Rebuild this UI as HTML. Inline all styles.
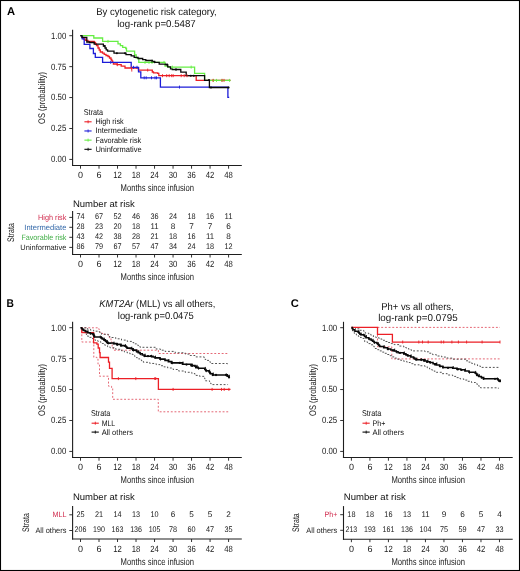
<!DOCTYPE html><html><head><meta charset="utf-8"><style>html,body{margin:0;padding:0;background:#fff;overflow:hidden;}svg{display:block;will-change:transform;text-rendering:geometricPrecision;}</style></head><body>
<svg width="520" height="571" viewBox="0 0 520 571" font-family='"Liberation Sans", sans-serif'>
<rect x="0" y="0" width="520" height="571" fill="#fff"/>
<text x="7.10" y="14.80" font-size="11.2" fill="#000" text-anchor="start" font-weight="bold">A</text>
<text x="156.50" y="14.90" font-size="10" fill="#111" text-anchor="middle" textLength="120.5" lengthAdjust="spacingAndGlyphs">By cytogenetic risk category,</text>
<text x="156.50" y="26.60" font-size="10" fill="#111" text-anchor="middle" textLength="78.6" lengthAdjust="spacingAndGlyphs">log-rank p=0.5487</text>
<line x1="72.60" y1="29.80" x2="72.60" y2="166.00" stroke="#1e1e1e" stroke-width="1.1"/>
<line x1="72.05" y1="165.50" x2="241.80" y2="165.50" stroke="#1e1e1e" stroke-width="1.1"/>
<line x1="69.30" y1="35.70" x2="72.60" y2="35.70" stroke="#1e1e1e" stroke-width="0.9"/>
<text x="66.30" y="38.60" font-size="9.0" fill="#1a1a1a" text-anchor="end" textLength="15.2" lengthAdjust="spacingAndGlyphs">1.00</text>
<line x1="69.30" y1="66.63" x2="72.60" y2="66.63" stroke="#1e1e1e" stroke-width="0.9"/>
<text x="66.30" y="69.53" font-size="9.0" fill="#1a1a1a" text-anchor="end" textLength="15.2" lengthAdjust="spacingAndGlyphs">0.75</text>
<line x1="69.30" y1="97.56" x2="72.60" y2="97.56" stroke="#1e1e1e" stroke-width="0.9"/>
<text x="66.30" y="100.46" font-size="9.0" fill="#1a1a1a" text-anchor="end" textLength="15.2" lengthAdjust="spacingAndGlyphs">0.50</text>
<line x1="69.30" y1="128.49" x2="72.60" y2="128.49" stroke="#1e1e1e" stroke-width="0.9"/>
<text x="66.30" y="131.39" font-size="9.0" fill="#1a1a1a" text-anchor="end" textLength="15.2" lengthAdjust="spacingAndGlyphs">0.25</text>
<line x1="69.30" y1="159.42" x2="72.60" y2="159.42" stroke="#1e1e1e" stroke-width="0.9"/>
<text x="66.30" y="162.32" font-size="9.0" fill="#1a1a1a" text-anchor="end" textLength="15.2" lengthAdjust="spacingAndGlyphs">0.00</text>
<line x1="80.50" y1="165.50" x2="80.50" y2="168.70" stroke="#1e1e1e" stroke-width="0.9"/>
<text x="80.50" y="178.10" font-size="9.0" fill="#1a1a1a" text-anchor="middle">0</text>
<line x1="99.01" y1="165.50" x2="99.01" y2="168.70" stroke="#1e1e1e" stroke-width="0.9"/>
<text x="99.01" y="178.10" font-size="9.0" fill="#1a1a1a" text-anchor="middle">6</text>
<line x1="117.52" y1="165.50" x2="117.52" y2="168.70" stroke="#1e1e1e" stroke-width="0.9"/>
<text x="117.52" y="178.10" font-size="9.0" fill="#1a1a1a" text-anchor="middle" textLength="8.6" lengthAdjust="spacingAndGlyphs">12</text>
<line x1="136.03" y1="165.50" x2="136.03" y2="168.70" stroke="#1e1e1e" stroke-width="0.9"/>
<text x="136.03" y="178.10" font-size="9.0" fill="#1a1a1a" text-anchor="middle" textLength="8.6" lengthAdjust="spacingAndGlyphs">18</text>
<line x1="154.54" y1="165.50" x2="154.54" y2="168.70" stroke="#1e1e1e" stroke-width="0.9"/>
<text x="154.54" y="178.10" font-size="9.0" fill="#1a1a1a" text-anchor="middle" textLength="8.6" lengthAdjust="spacingAndGlyphs">24</text>
<line x1="173.05" y1="165.50" x2="173.05" y2="168.70" stroke="#1e1e1e" stroke-width="0.9"/>
<text x="173.05" y="178.10" font-size="9.0" fill="#1a1a1a" text-anchor="middle" textLength="8.6" lengthAdjust="spacingAndGlyphs">30</text>
<line x1="191.56" y1="165.50" x2="191.56" y2="168.70" stroke="#1e1e1e" stroke-width="0.9"/>
<text x="191.56" y="178.10" font-size="9.0" fill="#1a1a1a" text-anchor="middle" textLength="8.6" lengthAdjust="spacingAndGlyphs">36</text>
<line x1="210.07" y1="165.50" x2="210.07" y2="168.70" stroke="#1e1e1e" stroke-width="0.9"/>
<text x="210.07" y="178.10" font-size="9.0" fill="#1a1a1a" text-anchor="middle" textLength="8.6" lengthAdjust="spacingAndGlyphs">42</text>
<line x1="228.58" y1="165.50" x2="228.58" y2="168.70" stroke="#1e1e1e" stroke-width="0.9"/>
<text x="228.58" y="178.10" font-size="9.0" fill="#1a1a1a" text-anchor="middle" textLength="8.6" lengthAdjust="spacingAndGlyphs">48</text>
<text x="157.30" y="191.20" font-size="9.8" fill="#1a1a1a" text-anchor="middle" textLength="73.5" lengthAdjust="spacingAndGlyphs">Months since infusion</text>
<text x="44.90" y="97.90" font-size="9.6" fill="#1a1a1a" text-anchor="middle" textLength="52" lengthAdjust="spacingAndGlyphs" transform="rotate(-90 44.90 97.90)">OS (probability)</text>
<polyline points="80.30,35.70 82.00,35.70 82.00,37.50 83.50,37.50 83.50,39.00 85.30,39.00 85.30,40.30 88.00,40.30 88.00,41.50 94.20,41.50 94.20,42.50 95.50,42.50 95.50,44.00 96.50,44.00 96.50,45.50 98.00,45.50 98.00,48.00 99.20,48.00 99.20,50.00 100.30,50.00 100.30,52.00 102.50,52.00 102.50,53.20 104.20,53.20 104.20,54.30 106.00,54.30 106.00,55.50 108.00,55.50 108.00,56.50 109.50,56.50 109.50,58.00 111.00,58.00 111.00,59.50 111.80,59.50 111.80,60.80 112.60,60.80 112.60,62.30 113.40,62.30 113.40,64.00 117.00,64.00 117.00,64.70 121.20,64.70 121.20,66.20 125.00,66.20 125.00,68.00 138.50,68.00 138.50,70.10 152.30,70.10 152.30,72.00 153.50,72.00 153.50,72.80 157.70,72.80 157.70,73.40 158.80,73.40 158.80,75.70 196.20,75.70 196.20,80.40 230.50,80.40" fill="none" stroke="#ec1f26" stroke-width="1.3" stroke-linejoin="miter"/>
<polyline points="80.30,35.70 82.20,35.70 82.20,38.90 84.20,38.90 84.20,44.30 89.90,44.30 89.90,48.50 93.40,48.50 93.40,53.50 95.30,53.50 95.30,57.40 102.60,57.40 102.60,62.30 131.20,62.30 131.20,67.30 138.50,67.30 138.50,71.90 140.80,71.90 140.80,77.80 160.40,77.80 160.40,87.10 227.90,87.10 227.90,97.30 229.20,97.30" fill="none" stroke="#1c1cd8" stroke-width="1.3" stroke-linejoin="miter"/>
<polyline points="80.30,35.70 93.80,35.70 93.80,38.00 102.60,38.00 102.60,41.40 118.00,41.40 118.00,43.90 120.40,43.90 120.40,45.60 122.70,45.60 122.70,47.40 125.80,47.40 125.80,48.50 126.50,48.50 126.50,51.20 134.60,51.20 134.60,55.00 136.20,55.00 136.20,58.20 138.80,58.20 138.80,62.40 165.00,62.40 165.00,66.20 168.00,66.20 168.00,67.10 194.60,67.10 194.60,73.40 204.60,73.40 204.60,80.40 230.50,80.40" fill="none" stroke="#66ee44" stroke-width="1.3" stroke-linejoin="miter"/>
<polyline points="80.30,35.70 82.00,35.70 82.00,37.40 86.80,37.40 86.80,42.00 89.50,42.00 89.50,42.50 94.20,42.50 94.20,44.20 103.40,44.20 103.40,46.00 105.00,46.00 105.00,48.00 106.20,48.00 106.20,49.80 107.60,49.80 107.60,51.20 114.00,51.20 114.00,53.20 126.00,53.20 126.00,54.70 131.20,54.70 131.20,55.80 134.20,55.80 134.20,57.40 138.00,57.40 138.00,58.50 142.70,58.50 142.70,59.70 145.80,59.70 145.80,60.50 152.30,60.50 152.30,61.30 154.60,61.30 154.60,62.30 159.20,62.30 159.20,64.20 165.40,64.20 165.40,64.60 167.70,64.60 167.70,66.90 170.50,66.90 170.50,68.80 172.30,68.80 172.30,69.50 180.80,69.50 180.80,72.20 186.20,72.20 186.20,75.70 204.60,75.70 204.60,80.30 209.40,80.30 209.40,87.50 228.80,87.50" fill="none" stroke="#0a0a0a" stroke-width="1.3" stroke-linejoin="miter"/>
<line x1="108.00" y1="39.90" x2="108.00" y2="42.90" stroke="#66ee44" stroke-width="0.9"/>
<line x1="145.00" y1="60.90" x2="145.00" y2="63.90" stroke="#66ee44" stroke-width="0.9"/>
<line x1="149.00" y1="60.90" x2="149.00" y2="63.90" stroke="#66ee44" stroke-width="0.9"/>
<line x1="152.00" y1="60.90" x2="152.00" y2="63.90" stroke="#66ee44" stroke-width="0.9"/>
<line x1="164.00" y1="60.90" x2="164.00" y2="63.90" stroke="#66ee44" stroke-width="0.9"/>
<line x1="172.30" y1="65.60" x2="172.30" y2="68.60" stroke="#66ee44" stroke-width="0.9"/>
<line x1="191.20" y1="65.60" x2="191.20" y2="68.60" stroke="#66ee44" stroke-width="0.9"/>
<line x1="213.50" y1="78.90" x2="213.50" y2="81.90" stroke="#66ee44" stroke-width="0.9"/>
<line x1="216.50" y1="78.90" x2="216.50" y2="81.90" stroke="#66ee44" stroke-width="0.9"/>
<line x1="222.00" y1="78.90" x2="222.00" y2="81.90" stroke="#66ee44" stroke-width="0.9"/>
<line x1="229.60" y1="78.90" x2="229.60" y2="81.90" stroke="#66ee44" stroke-width="0.9"/>
<line x1="110.70" y1="60.80" x2="110.70" y2="63.80" stroke="#1c1cd8" stroke-width="0.9"/>
<line x1="133.50" y1="65.80" x2="133.50" y2="68.80" stroke="#1c1cd8" stroke-width="0.9"/>
<line x1="137.00" y1="65.80" x2="137.00" y2="68.80" stroke="#1c1cd8" stroke-width="0.9"/>
<line x1="144.20" y1="76.30" x2="144.20" y2="79.30" stroke="#1c1cd8" stroke-width="0.9"/>
<line x1="146.20" y1="76.30" x2="146.20" y2="79.30" stroke="#1c1cd8" stroke-width="0.9"/>
<line x1="151.50" y1="76.30" x2="151.50" y2="79.30" stroke="#1c1cd8" stroke-width="0.9"/>
<line x1="155.00" y1="76.30" x2="155.00" y2="79.30" stroke="#1c1cd8" stroke-width="0.9"/>
<line x1="156.50" y1="76.30" x2="156.50" y2="79.30" stroke="#1c1cd8" stroke-width="0.9"/>
<line x1="179.50" y1="85.60" x2="179.50" y2="88.60" stroke="#1c1cd8" stroke-width="0.9"/>
<line x1="117.30" y1="63.20" x2="117.30" y2="66.20" stroke="#ec1f26" stroke-width="0.9"/>
<line x1="131.50" y1="66.50" x2="131.50" y2="69.50" stroke="#ec1f26" stroke-width="0.9"/>
<line x1="131.80" y1="68.60" x2="131.80" y2="71.60" stroke="#ec1f26" stroke-width="0.9"/>
<line x1="147.70" y1="68.60" x2="147.70" y2="71.60" stroke="#ec1f26" stroke-width="0.9"/>
<line x1="162.50" y1="74.20" x2="162.50" y2="77.20" stroke="#ec1f26" stroke-width="0.9"/>
<line x1="166.70" y1="74.20" x2="166.70" y2="77.20" stroke="#ec1f26" stroke-width="0.9"/>
<line x1="169.20" y1="74.20" x2="169.20" y2="77.20" stroke="#ec1f26" stroke-width="0.9"/>
<line x1="171.70" y1="74.20" x2="171.70" y2="77.20" stroke="#ec1f26" stroke-width="0.9"/>
<line x1="173.20" y1="74.20" x2="173.20" y2="77.20" stroke="#ec1f26" stroke-width="0.9"/>
<line x1="181.20" y1="74.20" x2="181.20" y2="77.20" stroke="#ec1f26" stroke-width="0.9"/>
<line x1="184.20" y1="74.20" x2="184.20" y2="77.20" stroke="#ec1f26" stroke-width="0.9"/>
<line x1="187.00" y1="74.20" x2="187.00" y2="77.20" stroke="#ec1f26" stroke-width="0.9"/>
<line x1="213.00" y1="78.90" x2="213.00" y2="81.90" stroke="#ec1f26" stroke-width="0.9"/>
<line x1="222.00" y1="78.90" x2="222.00" y2="81.90" stroke="#ec1f26" stroke-width="0.9"/>
<line x1="224.00" y1="78.90" x2="224.00" y2="81.90" stroke="#ec1f26" stroke-width="0.9"/>
<circle cx="104.5" cy="46.0" r="1.05" fill="#0a0a0a"/>
<circle cx="116.9" cy="53.2" r="1.05" fill="#0a0a0a"/>
<circle cx="125.0" cy="53.2" r="1.05" fill="#0a0a0a"/>
<circle cx="154.6" cy="62.3" r="1.05" fill="#0a0a0a"/>
<circle cx="190.8" cy="75.7" r="1.05" fill="#0a0a0a"/>
<circle cx="193.8" cy="75.7" r="1.05" fill="#0a0a0a"/>
<circle cx="209.0" cy="80.0" r="1.05" fill="#0a0a0a"/>
<circle cx="211.0" cy="87.5" r="1.05" fill="#0a0a0a"/>
<circle cx="228.6" cy="87.5" r="1.05" fill="#0a0a0a"/>
<line x1="152.00" y1="59.80" x2="152.00" y2="62.80" stroke="#0a0a0a" stroke-width="0.9"/>
<line x1="167.00" y1="63.10" x2="167.00" y2="66.10" stroke="#0a0a0a" stroke-width="0.9"/>
<line x1="176.00" y1="68.00" x2="176.00" y2="71.00" stroke="#0a0a0a" stroke-width="0.9"/>
<text x="83.80" y="115.20" font-size="8.5" fill="#111" text-anchor="start" textLength="19.3" lengthAdjust="spacingAndGlyphs">Strata</text>
<line x1="84.40" y1="121.80" x2="91.60" y2="121.80" stroke="#ec1f26" stroke-width="1.1"/>
<line x1="88.10" y1="120.30" x2="88.10" y2="123.30" stroke="#ec1f26" stroke-width="0.9"/>
<text x="95.40" y="124.30" font-size="8.0" fill="#111" text-anchor="start" textLength="28.3" lengthAdjust="spacingAndGlyphs">High risk</text>
<line x1="84.40" y1="130.97" x2="91.60" y2="130.97" stroke="#1c1cd8" stroke-width="1.1"/>
<line x1="88.10" y1="129.47" x2="88.10" y2="132.47" stroke="#1c1cd8" stroke-width="0.9"/>
<text x="95.40" y="133.47" font-size="8.0" fill="#111" text-anchor="start" textLength="42.2" lengthAdjust="spacingAndGlyphs">Intermediate</text>
<line x1="84.40" y1="140.14" x2="91.60" y2="140.14" stroke="#66ee44" stroke-width="1.1"/>
<line x1="88.10" y1="138.64" x2="88.10" y2="141.64" stroke="#66ee44" stroke-width="0.9"/>
<text x="95.40" y="142.64" font-size="8.0" fill="#111" text-anchor="start" textLength="45.8" lengthAdjust="spacingAndGlyphs">Favorable risk</text>
<line x1="84.40" y1="149.31" x2="91.60" y2="149.31" stroke="#0a0a0a" stroke-width="1.1"/>
<line x1="88.10" y1="147.81" x2="88.10" y2="150.81" stroke="#0a0a0a" stroke-width="0.9"/>
<text x="95.40" y="151.81" font-size="8.0" fill="#111" text-anchor="start" textLength="46.3" lengthAdjust="spacingAndGlyphs">Uninformative</text>
<text x="72.90" y="207.10" font-size="9.3" fill="#111" text-anchor="start" textLength="62.0" lengthAdjust="spacingAndGlyphs">Number at risk</text>
<line x1="72.60" y1="210.90" x2="72.60" y2="255.05" stroke="#1e1e1e" stroke-width="1.1"/>
<line x1="72.05" y1="254.50" x2="241.80" y2="254.50" stroke="#1e1e1e" stroke-width="1.1"/>
<line x1="69.30" y1="217.40" x2="72.60" y2="217.40" stroke="#1e1e1e" stroke-width="0.9"/>
<text x="66.40" y="219.70" font-size="7.8" fill="#d02a4c" text-anchor="end" textLength="28.3" lengthAdjust="spacingAndGlyphs">High risk</text>
<text x="80.50" y="219.35" font-size="8.2" fill="#1a1a1a" text-anchor="middle" textLength="8.1" lengthAdjust="spacingAndGlyphs">74</text>
<text x="99.01" y="219.35" font-size="8.2" fill="#1a1a1a" text-anchor="middle" textLength="8.1" lengthAdjust="spacingAndGlyphs">67</text>
<text x="117.52" y="219.35" font-size="8.2" fill="#1a1a1a" text-anchor="middle" textLength="8.1" lengthAdjust="spacingAndGlyphs">52</text>
<text x="136.03" y="219.35" font-size="8.2" fill="#1a1a1a" text-anchor="middle" textLength="8.1" lengthAdjust="spacingAndGlyphs">46</text>
<text x="154.54" y="219.35" font-size="8.2" fill="#1a1a1a" text-anchor="middle" textLength="8.1" lengthAdjust="spacingAndGlyphs">36</text>
<text x="173.05" y="219.35" font-size="8.2" fill="#1a1a1a" text-anchor="middle" textLength="8.1" lengthAdjust="spacingAndGlyphs">24</text>
<text x="191.56" y="219.35" font-size="8.2" fill="#1a1a1a" text-anchor="middle" textLength="8.1" lengthAdjust="spacingAndGlyphs">18</text>
<text x="210.07" y="219.35" font-size="8.2" fill="#1a1a1a" text-anchor="middle" textLength="8.1" lengthAdjust="spacingAndGlyphs">16</text>
<text x="228.58" y="219.35" font-size="8.2" fill="#1a1a1a" text-anchor="middle" textLength="8.1" lengthAdjust="spacingAndGlyphs">11</text>
<line x1="69.30" y1="227.30" x2="72.60" y2="227.30" stroke="#1e1e1e" stroke-width="0.9"/>
<text x="66.40" y="229.60" font-size="7.8" fill="#3469a9" text-anchor="end" textLength="42.1" lengthAdjust="spacingAndGlyphs">Intermediate</text>
<text x="80.50" y="229.25" font-size="8.2" fill="#1a1a1a" text-anchor="middle" textLength="8.1" lengthAdjust="spacingAndGlyphs">28</text>
<text x="99.01" y="229.25" font-size="8.2" fill="#1a1a1a" text-anchor="middle" textLength="8.1" lengthAdjust="spacingAndGlyphs">23</text>
<text x="117.52" y="229.25" font-size="8.2" fill="#1a1a1a" text-anchor="middle" textLength="8.1" lengthAdjust="spacingAndGlyphs">20</text>
<text x="136.03" y="229.25" font-size="8.2" fill="#1a1a1a" text-anchor="middle" textLength="8.1" lengthAdjust="spacingAndGlyphs">18</text>
<text x="154.54" y="229.25" font-size="8.2" fill="#1a1a1a" text-anchor="middle" textLength="8.1" lengthAdjust="spacingAndGlyphs">11</text>
<text x="173.05" y="229.25" font-size="8.2" fill="#1a1a1a" text-anchor="middle">8</text>
<text x="191.56" y="229.25" font-size="8.2" fill="#1a1a1a" text-anchor="middle">7</text>
<text x="210.07" y="229.25" font-size="8.2" fill="#1a1a1a" text-anchor="middle">7</text>
<text x="228.58" y="229.25" font-size="8.2" fill="#1a1a1a" text-anchor="middle">6</text>
<line x1="69.30" y1="237.30" x2="72.60" y2="237.30" stroke="#1e1e1e" stroke-width="0.9"/>
<text x="66.40" y="239.60" font-size="7.8" fill="#40ad45" text-anchor="end" textLength="45.0" lengthAdjust="spacingAndGlyphs">Favorable risk</text>
<text x="80.50" y="239.25" font-size="8.2" fill="#1a1a1a" text-anchor="middle" textLength="8.1" lengthAdjust="spacingAndGlyphs">43</text>
<text x="99.01" y="239.25" font-size="8.2" fill="#1a1a1a" text-anchor="middle" textLength="8.1" lengthAdjust="spacingAndGlyphs">42</text>
<text x="117.52" y="239.25" font-size="8.2" fill="#1a1a1a" text-anchor="middle" textLength="8.1" lengthAdjust="spacingAndGlyphs">38</text>
<text x="136.03" y="239.25" font-size="8.2" fill="#1a1a1a" text-anchor="middle" textLength="8.1" lengthAdjust="spacingAndGlyphs">28</text>
<text x="154.54" y="239.25" font-size="8.2" fill="#1a1a1a" text-anchor="middle" textLength="8.1" lengthAdjust="spacingAndGlyphs">21</text>
<text x="173.05" y="239.25" font-size="8.2" fill="#1a1a1a" text-anchor="middle" textLength="8.1" lengthAdjust="spacingAndGlyphs">18</text>
<text x="191.56" y="239.25" font-size="8.2" fill="#1a1a1a" text-anchor="middle" textLength="8.1" lengthAdjust="spacingAndGlyphs">16</text>
<text x="210.07" y="239.25" font-size="8.2" fill="#1a1a1a" text-anchor="middle" textLength="8.1" lengthAdjust="spacingAndGlyphs">11</text>
<text x="228.58" y="239.25" font-size="8.2" fill="#1a1a1a" text-anchor="middle">8</text>
<line x1="69.30" y1="247.40" x2="72.60" y2="247.40" stroke="#1e1e1e" stroke-width="0.9"/>
<text x="66.40" y="249.70" font-size="7.8" fill="#222" text-anchor="end" textLength="46.1" lengthAdjust="spacingAndGlyphs">Uninformative</text>
<text x="80.50" y="249.35" font-size="8.2" fill="#1a1a1a" text-anchor="middle" textLength="8.1" lengthAdjust="spacingAndGlyphs">86</text>
<text x="99.01" y="249.35" font-size="8.2" fill="#1a1a1a" text-anchor="middle" textLength="8.1" lengthAdjust="spacingAndGlyphs">79</text>
<text x="117.52" y="249.35" font-size="8.2" fill="#1a1a1a" text-anchor="middle" textLength="8.1" lengthAdjust="spacingAndGlyphs">67</text>
<text x="136.03" y="249.35" font-size="8.2" fill="#1a1a1a" text-anchor="middle" textLength="8.1" lengthAdjust="spacingAndGlyphs">57</text>
<text x="154.54" y="249.35" font-size="8.2" fill="#1a1a1a" text-anchor="middle" textLength="8.1" lengthAdjust="spacingAndGlyphs">47</text>
<text x="173.05" y="249.35" font-size="8.2" fill="#1a1a1a" text-anchor="middle" textLength="8.1" lengthAdjust="spacingAndGlyphs">34</text>
<text x="191.56" y="249.35" font-size="8.2" fill="#1a1a1a" text-anchor="middle" textLength="8.1" lengthAdjust="spacingAndGlyphs">24</text>
<text x="210.07" y="249.35" font-size="8.2" fill="#1a1a1a" text-anchor="middle" textLength="8.1" lengthAdjust="spacingAndGlyphs">18</text>
<text x="228.58" y="249.35" font-size="8.2" fill="#1a1a1a" text-anchor="middle" textLength="8.1" lengthAdjust="spacingAndGlyphs">12</text>
<line x1="80.50" y1="254.50" x2="80.50" y2="257.50" stroke="#1e1e1e" stroke-width="0.9"/>
<text x="80.50" y="267.20" font-size="9.0" fill="#1a1a1a" text-anchor="middle">0</text>
<line x1="99.01" y1="254.50" x2="99.01" y2="257.50" stroke="#1e1e1e" stroke-width="0.9"/>
<text x="99.01" y="267.20" font-size="9.0" fill="#1a1a1a" text-anchor="middle">6</text>
<line x1="117.52" y1="254.50" x2="117.52" y2="257.50" stroke="#1e1e1e" stroke-width="0.9"/>
<text x="117.52" y="267.20" font-size="9.0" fill="#1a1a1a" text-anchor="middle" textLength="8.6" lengthAdjust="spacingAndGlyphs">12</text>
<line x1="136.03" y1="254.50" x2="136.03" y2="257.50" stroke="#1e1e1e" stroke-width="0.9"/>
<text x="136.03" y="267.20" font-size="9.0" fill="#1a1a1a" text-anchor="middle" textLength="8.6" lengthAdjust="spacingAndGlyphs">18</text>
<line x1="154.54" y1="254.50" x2="154.54" y2="257.50" stroke="#1e1e1e" stroke-width="0.9"/>
<text x="154.54" y="267.20" font-size="9.0" fill="#1a1a1a" text-anchor="middle" textLength="8.6" lengthAdjust="spacingAndGlyphs">24</text>
<line x1="173.05" y1="254.50" x2="173.05" y2="257.50" stroke="#1e1e1e" stroke-width="0.9"/>
<text x="173.05" y="267.20" font-size="9.0" fill="#1a1a1a" text-anchor="middle" textLength="8.6" lengthAdjust="spacingAndGlyphs">30</text>
<line x1="191.56" y1="254.50" x2="191.56" y2="257.50" stroke="#1e1e1e" stroke-width="0.9"/>
<text x="191.56" y="267.20" font-size="9.0" fill="#1a1a1a" text-anchor="middle" textLength="8.6" lengthAdjust="spacingAndGlyphs">36</text>
<line x1="210.07" y1="254.50" x2="210.07" y2="257.50" stroke="#1e1e1e" stroke-width="0.9"/>
<text x="210.07" y="267.20" font-size="9.0" fill="#1a1a1a" text-anchor="middle" textLength="8.6" lengthAdjust="spacingAndGlyphs">42</text>
<line x1="228.58" y1="254.50" x2="228.58" y2="257.50" stroke="#1e1e1e" stroke-width="0.9"/>
<text x="228.58" y="267.20" font-size="9.0" fill="#1a1a1a" text-anchor="middle" textLength="8.6" lengthAdjust="spacingAndGlyphs">48</text>
<text x="157.30" y="280.20" font-size="9.8" fill="#1a1a1a" text-anchor="middle" textLength="73.5" lengthAdjust="spacingAndGlyphs">Months since infusion</text>
<text x="14.10" y="232.50" font-size="9.5" fill="#1a1a1a" text-anchor="middle" textLength="18.8" lengthAdjust="spacingAndGlyphs" transform="rotate(-90 14.10 232.50)">Strata</text>
<text x="6.60" y="307.30" font-size="11.2" fill="#000" text-anchor="start" font-weight="bold" textLength="7.4" lengthAdjust="spacingAndGlyphs">B</text>
<text x="157.3" y="306.9" font-size="10" fill="#111" text-anchor="middle" textLength="116" lengthAdjust="spacingAndGlyphs"><tspan font-style="italic">KMT2Ar</tspan> (MLL) vs all others,</text>
<text x="155.80" y="319.10" font-size="10" fill="#111" text-anchor="middle" textLength="76.0" lengthAdjust="spacingAndGlyphs">log-rank p=0.0475</text>
<line x1="72.60" y1="321.80" x2="72.60" y2="458.00" stroke="#1e1e1e" stroke-width="1.1"/>
<line x1="72.05" y1="457.50" x2="241.80" y2="457.50" stroke="#1e1e1e" stroke-width="1.1"/>
<line x1="69.30" y1="327.70" x2="72.60" y2="327.70" stroke="#1e1e1e" stroke-width="0.9"/>
<text x="66.30" y="330.60" font-size="9.0" fill="#1a1a1a" text-anchor="end" textLength="15.2" lengthAdjust="spacingAndGlyphs">1.00</text>
<line x1="69.30" y1="358.63" x2="72.60" y2="358.63" stroke="#1e1e1e" stroke-width="0.9"/>
<text x="66.30" y="361.53" font-size="9.0" fill="#1a1a1a" text-anchor="end" textLength="15.2" lengthAdjust="spacingAndGlyphs">0.75</text>
<line x1="69.30" y1="389.56" x2="72.60" y2="389.56" stroke="#1e1e1e" stroke-width="0.9"/>
<text x="66.30" y="392.46" font-size="9.0" fill="#1a1a1a" text-anchor="end" textLength="15.2" lengthAdjust="spacingAndGlyphs">0.50</text>
<line x1="69.30" y1="420.49" x2="72.60" y2="420.49" stroke="#1e1e1e" stroke-width="0.9"/>
<text x="66.30" y="423.39" font-size="9.0" fill="#1a1a1a" text-anchor="end" textLength="15.2" lengthAdjust="spacingAndGlyphs">0.25</text>
<line x1="69.30" y1="451.42" x2="72.60" y2="451.42" stroke="#1e1e1e" stroke-width="0.9"/>
<text x="66.30" y="454.32" font-size="9.0" fill="#1a1a1a" text-anchor="end" textLength="15.2" lengthAdjust="spacingAndGlyphs">0.00</text>
<line x1="80.50" y1="457.50" x2="80.50" y2="460.70" stroke="#1e1e1e" stroke-width="0.9"/>
<text x="80.50" y="470.10" font-size="9.0" fill="#1a1a1a" text-anchor="middle">0</text>
<line x1="99.01" y1="457.50" x2="99.01" y2="460.70" stroke="#1e1e1e" stroke-width="0.9"/>
<text x="99.01" y="470.10" font-size="9.0" fill="#1a1a1a" text-anchor="middle">6</text>
<line x1="117.52" y1="457.50" x2="117.52" y2="460.70" stroke="#1e1e1e" stroke-width="0.9"/>
<text x="117.52" y="470.10" font-size="9.0" fill="#1a1a1a" text-anchor="middle" textLength="8.6" lengthAdjust="spacingAndGlyphs">12</text>
<line x1="136.03" y1="457.50" x2="136.03" y2="460.70" stroke="#1e1e1e" stroke-width="0.9"/>
<text x="136.03" y="470.10" font-size="9.0" fill="#1a1a1a" text-anchor="middle" textLength="8.6" lengthAdjust="spacingAndGlyphs">18</text>
<line x1="154.54" y1="457.50" x2="154.54" y2="460.70" stroke="#1e1e1e" stroke-width="0.9"/>
<text x="154.54" y="470.10" font-size="9.0" fill="#1a1a1a" text-anchor="middle" textLength="8.6" lengthAdjust="spacingAndGlyphs">24</text>
<line x1="173.05" y1="457.50" x2="173.05" y2="460.70" stroke="#1e1e1e" stroke-width="0.9"/>
<text x="173.05" y="470.10" font-size="9.0" fill="#1a1a1a" text-anchor="middle" textLength="8.6" lengthAdjust="spacingAndGlyphs">30</text>
<line x1="191.56" y1="457.50" x2="191.56" y2="460.70" stroke="#1e1e1e" stroke-width="0.9"/>
<text x="191.56" y="470.10" font-size="9.0" fill="#1a1a1a" text-anchor="middle" textLength="8.6" lengthAdjust="spacingAndGlyphs">36</text>
<line x1="210.07" y1="457.50" x2="210.07" y2="460.70" stroke="#1e1e1e" stroke-width="0.9"/>
<text x="210.07" y="470.10" font-size="9.0" fill="#1a1a1a" text-anchor="middle" textLength="8.6" lengthAdjust="spacingAndGlyphs">42</text>
<line x1="228.58" y1="457.50" x2="228.58" y2="460.70" stroke="#1e1e1e" stroke-width="0.9"/>
<text x="228.58" y="470.10" font-size="9.0" fill="#1a1a1a" text-anchor="middle" textLength="8.6" lengthAdjust="spacingAndGlyphs">48</text>
<text x="157.30" y="483.20" font-size="9.8" fill="#1a1a1a" text-anchor="middle" textLength="73.5" lengthAdjust="spacingAndGlyphs">Months since infusion</text>
<text x="44.90" y="389.90" font-size="9.6" fill="#1a1a1a" text-anchor="middle" textLength="52" lengthAdjust="spacingAndGlyphs" transform="rotate(-90 44.90 389.90)">OS (probability)</text>
<polyline points="80.90,327.80 98.70,327.80 98.70,329.30 99.60,329.30 99.60,332.30 101.90,332.30 101.90,333.50 104.80,333.50 104.80,334.60 108.30,334.60 108.30,335.20 109.40,335.20 109.40,338.10 111.00,338.10 111.00,342.00 112.20,342.00 112.20,346.50 113.30,346.50 113.30,350.20 158.40,350.20 158.40,353.50 228.50,353.50" fill="none" stroke="#e4606e" stroke-width="0.95" stroke-linejoin="miter" stroke-dasharray="1.9 1.8"/>
<polyline points="80.90,327.80 81.80,327.80 81.80,342.00 93.80,342.00 93.80,357.30 96.90,357.30 96.90,358.90 98.00,358.90 98.00,364.20 99.50,364.20 99.50,376.20 108.50,376.20 108.50,386.20 111.60,386.20 111.60,388.30 112.70,388.30 112.70,399.30 158.30,399.30 158.30,411.80 228.90,411.80" fill="none" stroke="#e4606e" stroke-width="0.95" stroke-linejoin="miter" stroke-dasharray="1.9 1.8"/>
<polyline points="80.60,327.80 87.50,327.80 87.50,329.30 90.60,329.30 90.60,330.25 93.70,330.25 93.70,331.20 99.00,331.20 99.00,332.00 100.20,332.00 100.20,333.15 101.40,333.15 101.40,334.30 108.30,334.30 108.30,335.50 109.15,335.50 109.15,336.50 110.00,336.50 110.00,337.50 115.75,337.50 115.75,338.80 121.50,338.80 121.50,340.10 127.25,340.10 127.25,341.40 133.00,341.40 133.00,342.70 134.75,342.70 134.75,343.85 136.50,343.85 136.50,345.00 138.25,345.00 138.25,346.15 140.00,346.15 140.00,347.30 156.00,347.30 156.00,349.00 160.50,349.00 160.50,350.20 165.00,350.20 165.00,351.40 175.10,351.40 175.10,352.75 185.20,352.75 185.20,354.10 190.10,354.10 190.10,355.50 195.00,355.50 195.00,356.90 204.20,356.90 204.20,358.50 205.00,358.50 205.00,359.45 205.80,359.45 205.80,360.40 209.60,360.40 209.60,361.20 210.00,361.20 210.00,362.35 210.40,362.35 210.40,363.50 227.30,363.50 227.30,364.00 228.30,364.00 228.30,365.00" fill="none" stroke="#4a4a4a" stroke-width="0.95" stroke-linejoin="miter" stroke-dasharray="1.9 1.8"/>
<polyline points="80.60,327.80 81.59,327.80 81.59,329.00 82.57,329.00 82.57,330.20 83.56,330.20 83.56,331.40 84.54,331.40 84.54,332.60 85.53,332.60 85.53,333.80 86.51,333.80 86.51,335.00 87.50,335.00 87.50,336.20 89.45,336.20 89.45,337.35 91.40,337.35 91.40,338.50 93.30,338.50 93.30,339.50 95.20,339.50 95.20,340.50 97.90,340.50 97.90,341.45 100.60,341.45 100.60,342.40 102.13,342.40 102.13,343.53 103.67,343.53 103.67,344.67 105.20,344.67 105.20,345.80 107.60,345.80 107.60,346.80 110.00,346.80 110.00,347.80 115.75,347.80 115.75,349.30 121.50,349.30 121.50,350.80 124.38,350.80 124.38,351.95 127.25,351.95 127.25,353.10 130.12,353.10 130.12,354.25 133.00,354.25 133.00,355.40 134.73,355.40 134.73,356.55 136.47,356.55 136.47,357.70 138.20,357.70 138.20,358.85 139.93,358.85 139.93,360.00 141.67,360.00 141.67,361.15 143.40,361.15 143.40,362.30 149.75,362.30 149.75,363.45 156.10,363.45 156.10,364.60 159.97,364.60 159.97,365.73 163.83,365.73 163.83,366.87 167.70,366.87 167.70,368.00 173.10,368.00 173.10,369.50 178.50,369.50 178.50,371.00 185.20,371.00 185.20,372.30 191.90,372.30 191.90,373.60 195.00,373.60 195.00,375.40 199.60,375.40 199.60,376.35 204.20,376.35 204.20,377.30 204.60,377.30 204.60,378.47 205.00,378.47 205.00,379.63 205.40,379.63 205.40,380.80 209.50,380.80 209.50,381.50 210.07,381.50 210.07,382.53 210.63,382.53 210.63,383.57 211.20,383.57 211.20,384.60 227.60,384.60 227.60,385.00" fill="none" stroke="#4a4a4a" stroke-width="0.95" stroke-linejoin="miter" stroke-dasharray="1.9 1.8"/>
<polyline points="80.90,327.80 81.80,327.80 81.80,332.60 93.60,332.60 93.60,342.80 96.90,342.80 96.90,344.20 98.20,344.20 98.20,348.00 99.50,348.00 99.50,352.70 100.10,352.70 100.10,357.50 108.50,357.50 108.50,362.20 109.50,362.20 109.50,368.40 112.10,368.40 112.10,378.60 158.40,378.60 158.40,389.40 230.50,389.40" fill="none" stroke="#ec1f26" stroke-width="1.3" stroke-linejoin="miter"/>
<line x1="118.40" y1="377.10" x2="118.40" y2="380.10" stroke="#ec1f26" stroke-width="0.9"/>
<line x1="135.80" y1="377.10" x2="135.80" y2="380.10" stroke="#ec1f26" stroke-width="0.9"/>
<circle cx="155.2" cy="378.6" r="1.35" fill="#ec1f26"/>
<line x1="173.10" y1="387.90" x2="173.10" y2="390.90" stroke="#ec1f26" stroke-width="0.9"/>
<line x1="212.10" y1="387.90" x2="212.10" y2="390.90" stroke="#ec1f26" stroke-width="0.9"/>
<line x1="221.50" y1="387.90" x2="221.50" y2="390.90" stroke="#ec1f26" stroke-width="0.9"/>
<line x1="224.20" y1="387.90" x2="224.20" y2="390.90" stroke="#ec1f26" stroke-width="0.9"/>
<line x1="228.90" y1="387.90" x2="228.90" y2="390.90" stroke="#ec1f26" stroke-width="0.9"/>
<polyline points="80.60,327.80 81.63,327.80 81.63,328.70 82.67,328.70 82.67,329.60 83.70,329.60 83.70,330.50 85.60,330.50 85.60,331.65 87.50,331.65 87.50,332.80 90.20,332.80 90.20,333.55 92.90,333.55 92.90,334.30 93.43,334.30 93.43,335.20 93.97,335.20 93.97,336.10 94.50,336.10 94.50,337.00 99.80,337.00 99.80,337.00 101.15,337.00 101.15,338.00 102.50,338.00 102.50,339.00 103.75,339.00 103.75,339.75 105.00,339.75 105.00,340.50 105.90,340.50 105.90,341.37 106.80,341.37 106.80,342.23 107.70,342.23 107.70,343.10 110.60,343.10 110.60,343.00 113.50,343.00 113.50,343.60 116.90,343.60 116.90,344.40 121.00,344.40 121.00,345.60 125.00,345.60 125.00,346.30 126.15,346.30 126.15,347.20 127.30,347.20 127.30,348.10 131.30,348.10 131.30,348.70 133.10,348.70 133.10,350.10 136.50,350.10 136.50,351.50 138.25,351.50 138.25,352.65 140.00,352.65 140.00,353.80 142.30,353.80 142.30,355.00 144.60,355.00 144.60,356.20 151.00,356.20 151.00,356.20 153.00,356.20 153.00,357.05 155.00,357.05 155.00,357.90 160.00,357.90 160.00,359.15 165.00,359.15 165.00,360.40 168.35,360.40 168.35,361.65 171.70,361.65 171.70,362.90 178.50,362.90 178.50,362.90 182.50,362.90 182.50,364.20 191.90,364.20 191.90,365.60 195.00,365.60 195.00,366.20 196.55,366.20 196.55,367.25 198.10,367.25 198.10,368.30 203.80,368.30 203.80,368.30 204.80,368.30 204.80,369.55 205.80,369.55 205.80,370.80 208.50,370.80 208.50,371.00 209.13,371.00 209.13,371.93 209.77,371.93 209.77,372.87 210.40,372.87 210.40,373.80 212.70,373.80 212.70,375.00 225.80,375.00 225.80,374.90 227.30,374.90 227.30,376.10 228.80,376.10 228.80,377.30" fill="none" stroke="#0a0a0a" stroke-width="1.6" stroke-linejoin="miter"/>
<circle cx="104.5" cy="340.2" r="1.15" fill="#0a0a0a"/>
<circle cx="107.5" cy="342.8" r="1.15" fill="#0a0a0a"/>
<circle cx="117.0" cy="344.4" r="1.15" fill="#0a0a0a"/>
<circle cx="121.0" cy="345.6" r="1.15" fill="#0a0a0a"/>
<circle cx="133.0" cy="350.0" r="1.15" fill="#0a0a0a"/>
<circle cx="137.0" cy="351.6" r="1.15" fill="#0a0a0a"/>
<circle cx="144.5" cy="356.1" r="1.15" fill="#0a0a0a"/>
<circle cx="148.0" cy="356.2" r="1.15" fill="#0a0a0a"/>
<circle cx="151.0" cy="356.2" r="1.15" fill="#0a0a0a"/>
<circle cx="171.7" cy="362.9" r="1.15" fill="#0a0a0a"/>
<circle cx="179.8" cy="362.9" r="1.15" fill="#0a0a0a"/>
<circle cx="186.5" cy="364.6" r="1.15" fill="#0a0a0a"/>
<circle cx="191.2" cy="365.5" r="1.15" fill="#0a0a0a"/>
<circle cx="196.0" cy="367.6" r="1.15" fill="#0a0a0a"/>
<circle cx="212.8" cy="375.0" r="1.15" fill="#0a0a0a"/>
<circle cx="216.0" cy="375.0" r="1.15" fill="#0a0a0a"/>
<circle cx="226.2" cy="375.0" r="1.15" fill="#0a0a0a"/>
<circle cx="229.0" cy="377.4" r="1.15" fill="#0a0a0a"/>
<line x1="88.00" y1="330.25" x2="88.00" y2="333.05" stroke="#0a0a0a" stroke-width="0.9"/>
<line x1="90.70" y1="332.15" x2="90.70" y2="334.95" stroke="#0a0a0a" stroke-width="0.9"/>
<line x1="93.93" y1="332.90" x2="93.93" y2="335.70" stroke="#0a0a0a" stroke-width="0.9"/>
<line x1="94.47" y1="334.70" x2="94.47" y2="337.50" stroke="#0a0a0a" stroke-width="0.9"/>
<line x1="100.30" y1="335.60" x2="100.30" y2="338.40" stroke="#0a0a0a" stroke-width="0.9"/>
<line x1="101.65" y1="336.60" x2="101.65" y2="339.40" stroke="#0a0a0a" stroke-width="0.9"/>
<line x1="104.25" y1="337.60" x2="104.25" y2="340.40" stroke="#0a0a0a" stroke-width="0.9"/>
<line x1="105.50" y1="339.10" x2="105.50" y2="341.90" stroke="#0a0a0a" stroke-width="0.9"/>
<line x1="107.30" y1="339.97" x2="107.30" y2="342.77" stroke="#0a0a0a" stroke-width="0.9"/>
<line x1="108.20" y1="341.70" x2="108.20" y2="344.50" stroke="#0a0a0a" stroke-width="0.9"/>
<line x1="114.00" y1="341.60" x2="114.00" y2="344.40" stroke="#0a0a0a" stroke-width="0.9"/>
<line x1="117.40" y1="343.00" x2="117.40" y2="345.80" stroke="#0a0a0a" stroke-width="0.9"/>
<line x1="125.50" y1="344.20" x2="125.50" y2="347.00" stroke="#0a0a0a" stroke-width="0.9"/>
<line x1="126.65" y1="345.80" x2="126.65" y2="348.60" stroke="#0a0a0a" stroke-width="0.9"/>
<line x1="131.80" y1="346.70" x2="131.80" y2="349.50" stroke="#0a0a0a" stroke-width="0.9"/>
<line x1="133.60" y1="348.70" x2="133.60" y2="351.50" stroke="#0a0a0a" stroke-width="0.9"/>
<line x1="138.75" y1="350.10" x2="138.75" y2="352.90" stroke="#0a0a0a" stroke-width="0.9"/>
<line x1="140.50" y1="352.40" x2="140.50" y2="355.20" stroke="#0a0a0a" stroke-width="0.9"/>
<line x1="145.10" y1="353.60" x2="145.10" y2="356.40" stroke="#0a0a0a" stroke-width="0.9"/>
<line x1="151.50" y1="354.80" x2="151.50" y2="357.60" stroke="#0a0a0a" stroke-width="0.9"/>
<line x1="155.50" y1="355.65" x2="155.50" y2="358.45" stroke="#0a0a0a" stroke-width="0.9"/>
<line x1="160.50" y1="357.75" x2="160.50" y2="360.55" stroke="#0a0a0a" stroke-width="0.9"/>
<line x1="168.85" y1="359.00" x2="168.85" y2="361.80" stroke="#0a0a0a" stroke-width="0.9"/>
<line x1="172.20" y1="361.50" x2="172.20" y2="364.30" stroke="#0a0a0a" stroke-width="0.9"/>
<line x1="183.00" y1="361.50" x2="183.00" y2="364.30" stroke="#0a0a0a" stroke-width="0.9"/>
<line x1="192.40" y1="364.20" x2="192.40" y2="367.00" stroke="#0a0a0a" stroke-width="0.9"/>
<line x1="197.05" y1="364.80" x2="197.05" y2="367.60" stroke="#0a0a0a" stroke-width="0.9"/>
<line x1="198.60" y1="366.90" x2="198.60" y2="369.70" stroke="#0a0a0a" stroke-width="0.9"/>
<line x1="205.30" y1="366.90" x2="205.30" y2="369.70" stroke="#0a0a0a" stroke-width="0.9"/>
<line x1="206.30" y1="369.40" x2="206.30" y2="372.20" stroke="#0a0a0a" stroke-width="0.9"/>
<line x1="209.63" y1="369.60" x2="209.63" y2="372.40" stroke="#0a0a0a" stroke-width="0.9"/>
<line x1="210.27" y1="371.47" x2="210.27" y2="374.27" stroke="#0a0a0a" stroke-width="0.9"/>
<line x1="213.20" y1="372.40" x2="213.20" y2="375.20" stroke="#0a0a0a" stroke-width="0.9"/>
<line x1="226.30" y1="373.50" x2="226.30" y2="376.30" stroke="#0a0a0a" stroke-width="0.9"/>
<line x1="229.30" y1="374.70" x2="229.30" y2="377.50" stroke="#0a0a0a" stroke-width="0.9"/>
<text x="91.00" y="415.80" font-size="8.5" fill="#111" text-anchor="start" textLength="19.3" lengthAdjust="spacingAndGlyphs">Strata</text>
<line x1="91.60" y1="423.20" x2="98.80" y2="423.20" stroke="#ec1f26" stroke-width="1.1"/>
<line x1="95.30" y1="421.70" x2="95.30" y2="424.70" stroke="#ec1f26" stroke-width="0.9"/>
<text x="101.70" y="425.70" font-size="8.0" fill="#111" text-anchor="start" textLength="13.5" lengthAdjust="spacingAndGlyphs">MLL</text>
<line x1="91.60" y1="432.10" x2="98.80" y2="432.10" stroke="#0a0a0a" stroke-width="1.1"/>
<line x1="95.30" y1="430.60" x2="95.30" y2="433.60" stroke="#0a0a0a" stroke-width="0.9"/>
<text x="101.70" y="434.60" font-size="8.0" fill="#111" text-anchor="start" textLength="31.3" lengthAdjust="spacingAndGlyphs">All others</text>
<text x="72.90" y="499.80" font-size="9.3" fill="#111" text-anchor="start" textLength="62.0" lengthAdjust="spacingAndGlyphs">Number at risk</text>
<line x1="72.60" y1="506.10" x2="72.60" y2="539.55" stroke="#1e1e1e" stroke-width="1.1"/>
<line x1="72.05" y1="539.00" x2="241.80" y2="539.00" stroke="#1e1e1e" stroke-width="1.1"/>
<line x1="69.30" y1="514.80" x2="72.60" y2="514.80" stroke="#1e1e1e" stroke-width="0.9"/>
<text x="66.40" y="517.10" font-size="7.8" fill="#d02a4c" text-anchor="end" textLength="14.0" lengthAdjust="spacingAndGlyphs">MLL</text>
<text x="80.50" y="516.75" font-size="8.2" fill="#1a1a1a" text-anchor="middle" textLength="8.1" lengthAdjust="spacingAndGlyphs">25</text>
<text x="99.01" y="516.75" font-size="8.2" fill="#1a1a1a" text-anchor="middle" textLength="8.1" lengthAdjust="spacingAndGlyphs">21</text>
<text x="117.52" y="516.75" font-size="8.2" fill="#1a1a1a" text-anchor="middle" textLength="8.1" lengthAdjust="spacingAndGlyphs">14</text>
<text x="136.03" y="516.75" font-size="8.2" fill="#1a1a1a" text-anchor="middle" textLength="8.1" lengthAdjust="spacingAndGlyphs">13</text>
<text x="154.54" y="516.75" font-size="8.2" fill="#1a1a1a" text-anchor="middle" textLength="8.1" lengthAdjust="spacingAndGlyphs">10</text>
<text x="173.05" y="516.75" font-size="8.2" fill="#1a1a1a" text-anchor="middle">6</text>
<text x="191.56" y="516.75" font-size="8.2" fill="#1a1a1a" text-anchor="middle">5</text>
<text x="210.07" y="516.75" font-size="8.2" fill="#1a1a1a" text-anchor="middle">5</text>
<text x="228.58" y="516.75" font-size="8.2" fill="#1a1a1a" text-anchor="middle">2</text>
<line x1="69.30" y1="530.50" x2="72.60" y2="530.50" stroke="#1e1e1e" stroke-width="0.9"/>
<text x="66.40" y="532.80" font-size="7.8" fill="#222" text-anchor="end" textLength="31.0" lengthAdjust="spacingAndGlyphs">All others</text>
<text x="80.50" y="532.45" font-size="8.2" fill="#1a1a1a" text-anchor="middle" textLength="11.8" lengthAdjust="spacingAndGlyphs">206</text>
<text x="99.01" y="532.45" font-size="8.2" fill="#1a1a1a" text-anchor="middle" textLength="11.8" lengthAdjust="spacingAndGlyphs">190</text>
<text x="117.52" y="532.45" font-size="8.2" fill="#1a1a1a" text-anchor="middle" textLength="11.8" lengthAdjust="spacingAndGlyphs">163</text>
<text x="136.03" y="532.45" font-size="8.2" fill="#1a1a1a" text-anchor="middle" textLength="11.8" lengthAdjust="spacingAndGlyphs">136</text>
<text x="154.54" y="532.45" font-size="8.2" fill="#1a1a1a" text-anchor="middle" textLength="11.8" lengthAdjust="spacingAndGlyphs">105</text>
<text x="173.05" y="532.45" font-size="8.2" fill="#1a1a1a" text-anchor="middle" textLength="8.1" lengthAdjust="spacingAndGlyphs">78</text>
<text x="191.56" y="532.45" font-size="8.2" fill="#1a1a1a" text-anchor="middle" textLength="8.1" lengthAdjust="spacingAndGlyphs">60</text>
<text x="210.07" y="532.45" font-size="8.2" fill="#1a1a1a" text-anchor="middle" textLength="8.1" lengthAdjust="spacingAndGlyphs">47</text>
<text x="228.58" y="532.45" font-size="8.2" fill="#1a1a1a" text-anchor="middle" textLength="8.1" lengthAdjust="spacingAndGlyphs">35</text>
<line x1="80.50" y1="539.00" x2="80.50" y2="542.00" stroke="#1e1e1e" stroke-width="0.9"/>
<text x="80.50" y="551.70" font-size="9.0" fill="#1a1a1a" text-anchor="middle">0</text>
<line x1="99.01" y1="539.00" x2="99.01" y2="542.00" stroke="#1e1e1e" stroke-width="0.9"/>
<text x="99.01" y="551.70" font-size="9.0" fill="#1a1a1a" text-anchor="middle">6</text>
<line x1="117.52" y1="539.00" x2="117.52" y2="542.00" stroke="#1e1e1e" stroke-width="0.9"/>
<text x="117.52" y="551.70" font-size="9.0" fill="#1a1a1a" text-anchor="middle" textLength="8.6" lengthAdjust="spacingAndGlyphs">12</text>
<line x1="136.03" y1="539.00" x2="136.03" y2="542.00" stroke="#1e1e1e" stroke-width="0.9"/>
<text x="136.03" y="551.70" font-size="9.0" fill="#1a1a1a" text-anchor="middle" textLength="8.6" lengthAdjust="spacingAndGlyphs">18</text>
<line x1="154.54" y1="539.00" x2="154.54" y2="542.00" stroke="#1e1e1e" stroke-width="0.9"/>
<text x="154.54" y="551.70" font-size="9.0" fill="#1a1a1a" text-anchor="middle" textLength="8.6" lengthAdjust="spacingAndGlyphs">24</text>
<line x1="173.05" y1="539.00" x2="173.05" y2="542.00" stroke="#1e1e1e" stroke-width="0.9"/>
<text x="173.05" y="551.70" font-size="9.0" fill="#1a1a1a" text-anchor="middle" textLength="8.6" lengthAdjust="spacingAndGlyphs">30</text>
<line x1="191.56" y1="539.00" x2="191.56" y2="542.00" stroke="#1e1e1e" stroke-width="0.9"/>
<text x="191.56" y="551.70" font-size="9.0" fill="#1a1a1a" text-anchor="middle" textLength="8.6" lengthAdjust="spacingAndGlyphs">36</text>
<line x1="210.07" y1="539.00" x2="210.07" y2="542.00" stroke="#1e1e1e" stroke-width="0.9"/>
<text x="210.07" y="551.70" font-size="9.0" fill="#1a1a1a" text-anchor="middle" textLength="8.6" lengthAdjust="spacingAndGlyphs">42</text>
<line x1="228.58" y1="539.00" x2="228.58" y2="542.00" stroke="#1e1e1e" stroke-width="0.9"/>
<text x="228.58" y="551.70" font-size="9.0" fill="#1a1a1a" text-anchor="middle" textLength="8.6" lengthAdjust="spacingAndGlyphs">48</text>
<text x="157.30" y="564.70" font-size="9.8" fill="#1a1a1a" text-anchor="middle" textLength="73.5" lengthAdjust="spacingAndGlyphs">Months since infusion</text>
<text x="28.90" y="522.50" font-size="9.5" fill="#1a1a1a" text-anchor="middle" textLength="18.8" lengthAdjust="spacingAndGlyphs" transform="rotate(-90 28.90 522.50)">Strata</text>
<text x="290.80" y="306.90" font-size="11.2" fill="#000" text-anchor="start" font-weight="bold">C</text>
<text x="417.50" y="309.70" font-size="10" fill="#111" text-anchor="middle" textLength="72.3" lengthAdjust="spacingAndGlyphs">Ph+ vs all others,</text>
<text x="417.90" y="321.10" font-size="10" fill="#111" text-anchor="middle" textLength="79.5" lengthAdjust="spacingAndGlyphs">log-rank p=0.0795</text>
<line x1="343.50" y1="321.80" x2="343.50" y2="458.00" stroke="#1e1e1e" stroke-width="1.1"/>
<line x1="342.95" y1="457.50" x2="512.70" y2="457.50" stroke="#1e1e1e" stroke-width="1.1"/>
<line x1="340.20" y1="327.70" x2="343.50" y2="327.70" stroke="#1e1e1e" stroke-width="0.9"/>
<text x="337.20" y="330.60" font-size="9.0" fill="#1a1a1a" text-anchor="end" textLength="15.2" lengthAdjust="spacingAndGlyphs">1.00</text>
<line x1="340.20" y1="358.63" x2="343.50" y2="358.63" stroke="#1e1e1e" stroke-width="0.9"/>
<text x="337.20" y="361.53" font-size="9.0" fill="#1a1a1a" text-anchor="end" textLength="15.2" lengthAdjust="spacingAndGlyphs">0.75</text>
<line x1="340.20" y1="389.56" x2="343.50" y2="389.56" stroke="#1e1e1e" stroke-width="0.9"/>
<text x="337.20" y="392.46" font-size="9.0" fill="#1a1a1a" text-anchor="end" textLength="15.2" lengthAdjust="spacingAndGlyphs">0.50</text>
<line x1="340.20" y1="420.49" x2="343.50" y2="420.49" stroke="#1e1e1e" stroke-width="0.9"/>
<text x="337.20" y="423.39" font-size="9.0" fill="#1a1a1a" text-anchor="end" textLength="15.2" lengthAdjust="spacingAndGlyphs">0.25</text>
<line x1="340.20" y1="451.42" x2="343.50" y2="451.42" stroke="#1e1e1e" stroke-width="0.9"/>
<text x="337.20" y="454.32" font-size="9.0" fill="#1a1a1a" text-anchor="end" textLength="15.2" lengthAdjust="spacingAndGlyphs">0.00</text>
<line x1="351.40" y1="457.50" x2="351.40" y2="460.70" stroke="#1e1e1e" stroke-width="0.9"/>
<text x="351.40" y="470.10" font-size="9.0" fill="#1a1a1a" text-anchor="middle">0</text>
<line x1="369.91" y1="457.50" x2="369.91" y2="460.70" stroke="#1e1e1e" stroke-width="0.9"/>
<text x="369.91" y="470.10" font-size="9.0" fill="#1a1a1a" text-anchor="middle">6</text>
<line x1="388.42" y1="457.50" x2="388.42" y2="460.70" stroke="#1e1e1e" stroke-width="0.9"/>
<text x="388.42" y="470.10" font-size="9.0" fill="#1a1a1a" text-anchor="middle" textLength="8.6" lengthAdjust="spacingAndGlyphs">12</text>
<line x1="406.93" y1="457.50" x2="406.93" y2="460.70" stroke="#1e1e1e" stroke-width="0.9"/>
<text x="406.93" y="470.10" font-size="9.0" fill="#1a1a1a" text-anchor="middle" textLength="8.6" lengthAdjust="spacingAndGlyphs">18</text>
<line x1="425.44" y1="457.50" x2="425.44" y2="460.70" stroke="#1e1e1e" stroke-width="0.9"/>
<text x="425.44" y="470.10" font-size="9.0" fill="#1a1a1a" text-anchor="middle" textLength="8.6" lengthAdjust="spacingAndGlyphs">24</text>
<line x1="443.95" y1="457.50" x2="443.95" y2="460.70" stroke="#1e1e1e" stroke-width="0.9"/>
<text x="443.95" y="470.10" font-size="9.0" fill="#1a1a1a" text-anchor="middle" textLength="8.6" lengthAdjust="spacingAndGlyphs">30</text>
<line x1="462.46" y1="457.50" x2="462.46" y2="460.70" stroke="#1e1e1e" stroke-width="0.9"/>
<text x="462.46" y="470.10" font-size="9.0" fill="#1a1a1a" text-anchor="middle" textLength="8.6" lengthAdjust="spacingAndGlyphs">36</text>
<line x1="480.97" y1="457.50" x2="480.97" y2="460.70" stroke="#1e1e1e" stroke-width="0.9"/>
<text x="480.97" y="470.10" font-size="9.0" fill="#1a1a1a" text-anchor="middle" textLength="8.6" lengthAdjust="spacingAndGlyphs">42</text>
<line x1="499.48" y1="457.50" x2="499.48" y2="460.70" stroke="#1e1e1e" stroke-width="0.9"/>
<text x="499.48" y="470.10" font-size="9.0" fill="#1a1a1a" text-anchor="middle" textLength="8.6" lengthAdjust="spacingAndGlyphs">48</text>
<text x="428.20" y="483.20" font-size="9.8" fill="#1a1a1a" text-anchor="middle" textLength="73.5" lengthAdjust="spacingAndGlyphs">Months since infusion</text>
<text x="315.80" y="389.90" font-size="9.6" fill="#1a1a1a" text-anchor="middle" textLength="52" lengthAdjust="spacingAndGlyphs" transform="rotate(-90 315.80 389.90)">OS (probability)</text>
<polyline points="377.50,327.40 500.00,327.40" fill="none" stroke="#e4606e" stroke-width="0.95" stroke-linejoin="miter" stroke-dasharray="1.9 1.8"/>
<polyline points="377.50,327.40 377.50,346.80 391.80,346.80 391.80,358.90 500.00,358.90" fill="none" stroke="#e4606e" stroke-width="0.95" stroke-linejoin="miter" stroke-dasharray="1.9 1.8"/>
<polyline points="351.50,327.40 355.50,327.40 355.50,328.85 359.50,328.85 359.50,330.30 363.60,330.30 363.60,331.20 364.45,331.20 364.45,332.20 365.30,332.20 365.30,333.20 368.80,333.20 368.80,334.40 371.10,334.40 371.10,335.50 373.40,335.50 373.40,337.00 376.30,337.00 376.30,337.80 379.20,337.80 379.20,339.03 382.10,339.03 382.10,340.27 385.00,340.27 385.00,341.50 388.07,341.50 388.07,342.53 391.13,342.53 391.13,343.57 394.20,343.57 394.20,344.60 399.00,344.60 399.00,346.05 403.80,346.05 403.80,347.50 406.37,347.50 406.37,348.63 408.93,348.63 408.93,349.77 411.50,349.77 411.50,350.90 425.00,350.90 425.00,351.80 428.77,351.80 428.77,353.20 432.53,353.20 432.53,354.60 436.30,354.60 436.30,356.00 441.77,356.00 441.77,357.07 447.23,357.07 447.23,358.13 452.70,358.13 452.70,359.20 465.80,359.20 465.80,360.80 468.74,360.80 468.74,362.12 471.68,362.12 471.68,363.44 474.62,363.44 474.62,364.76 477.56,364.76 477.56,366.08 480.50,366.08 480.50,367.40 498.40,367.40 498.40,368.20" fill="none" stroke="#4a4a4a" stroke-width="0.95" stroke-linejoin="miter" stroke-dasharray="1.9 1.8"/>
<polyline points="351.50,327.40 351.87,327.40 351.87,328.57 352.23,328.57 352.23,329.73 352.60,329.73 352.60,330.90 353.45,330.90 353.45,332.20 354.30,332.20 354.30,333.50 356.35,333.50 356.35,334.95 358.40,334.95 358.40,336.40 359.85,336.40 359.85,337.40 361.30,337.40 361.30,338.40 364.20,338.40 364.20,339.00 364.45,339.00 364.45,340.45 364.70,340.45 364.70,341.90 367.60,341.90 367.60,343.60 371.10,343.60 371.10,344.80 373.40,344.80 373.40,346.20 374.20,346.20 374.20,347.35 375.00,347.35 375.00,348.50 377.40,348.50 377.40,349.70 379.80,349.70 379.80,350.90 382.20,350.90 382.20,352.10 384.60,352.10 384.60,353.30 387.00,353.30 387.00,354.50 389.40,354.50 389.40,355.70 391.80,355.70 391.80,356.90 394.20,356.90 394.20,358.10 397.40,358.10 397.40,359.20 400.60,359.20 400.60,360.30 403.80,360.30 403.80,361.40 407.03,361.40 407.03,362.53 410.27,362.53 410.27,363.67 413.50,363.67 413.50,364.80 419.25,364.80 419.25,365.75 425.00,365.75 425.00,366.70 427.26,366.70 427.26,367.82 429.52,367.82 429.52,368.94 431.78,368.94 431.78,370.06 434.04,370.06 434.04,371.18 436.30,371.18 436.30,372.30 441.77,372.30 441.77,373.67 447.23,373.67 447.23,375.03 452.70,375.03 452.70,376.40 456.38,376.40 456.38,377.62 460.05,377.62 460.05,378.85 463.72,378.85 463.72,380.07 467.40,380.07 467.40,381.30 471.50,381.30 471.50,382.50 475.60,382.50 475.60,383.70 477.23,383.70 477.23,385.07 478.87,385.07 478.87,386.43 480.50,386.43 480.50,387.80 498.40,387.80 498.40,388.60" fill="none" stroke="#4a4a4a" stroke-width="0.95" stroke-linejoin="miter" stroke-dasharray="1.9 1.8"/>
<polyline points="351.50,327.40 377.50,327.40 377.50,334.40 392.40,334.40 392.40,342.10 500.00,342.10" fill="none" stroke="#ec1f26" stroke-width="1.3" stroke-linejoin="miter"/>
<line x1="402.70" y1="340.50" x2="402.70" y2="343.50" stroke="#ec1f26" stroke-width="0.9"/>
<line x1="418.80" y1="340.50" x2="418.80" y2="343.50" stroke="#ec1f26" stroke-width="0.9"/>
<line x1="422.50" y1="340.50" x2="422.50" y2="343.50" stroke="#ec1f26" stroke-width="0.9"/>
<line x1="428.20" y1="340.50" x2="428.20" y2="343.50" stroke="#ec1f26" stroke-width="0.9"/>
<line x1="441.20" y1="340.50" x2="441.20" y2="343.50" stroke="#ec1f26" stroke-width="0.9"/>
<line x1="443.70" y1="340.50" x2="443.70" y2="343.50" stroke="#ec1f26" stroke-width="0.9"/>
<line x1="451.90" y1="340.50" x2="451.90" y2="343.50" stroke="#ec1f26" stroke-width="0.9"/>
<line x1="458.40" y1="340.50" x2="458.40" y2="343.50" stroke="#ec1f26" stroke-width="0.9"/>
<line x1="466.60" y1="340.50" x2="466.60" y2="343.50" stroke="#ec1f26" stroke-width="0.9"/>
<line x1="482.10" y1="340.50" x2="482.10" y2="343.50" stroke="#ec1f26" stroke-width="0.9"/>
<line x1="500.00" y1="340.50" x2="500.00" y2="343.50" stroke="#ec1f26" stroke-width="0.9"/>
<polyline points="351.50,327.40 352.20,327.40 352.20,328.60 352.90,328.60 352.90,329.80 354.90,329.80 354.90,331.20 357.50,331.20 357.50,331.50 358.25,331.50 358.25,332.35 359.00,332.35 359.00,333.20 359.85,333.20 359.85,333.95 360.70,333.95 360.70,334.70 363.30,334.70 363.30,335.00 364.70,335.00 364.70,336.40 365.90,336.40 365.90,337.80 368.80,337.80 368.80,339.00 371.10,339.00 371.10,340.20 372.55,340.20 372.55,341.35 374.00,341.35 374.00,342.50 376.90,342.50 376.90,343.60 377.87,343.60 377.87,344.57 378.83,344.57 378.83,345.53 379.80,345.53 379.80,346.50 383.65,346.50 383.65,347.75 387.50,347.75 387.50,349.00 390.85,349.00 390.85,349.95 394.20,349.95 394.20,350.90 396.15,350.90 396.15,351.85 398.10,351.85 398.10,352.80 403.80,352.80 403.80,353.80 405.75,353.80 405.75,354.75 407.70,354.75 407.70,355.70 410.60,355.70 410.60,356.90 413.50,356.90 413.50,358.10 414.90,358.10 414.90,358.90 416.30,358.90 416.30,359.70 421.20,359.70 421.20,359.70 425.00,359.70 425.00,361.00 427.40,361.00 427.40,361.75 429.80,361.75 429.80,362.50 433.05,362.50 433.05,363.70 436.30,363.70 436.30,364.90 439.60,364.90 439.60,366.15 442.90,366.15 442.90,367.40 452.70,367.40 452.70,368.20 456.75,368.20 456.75,369.00 460.80,369.00 460.80,369.80 464.90,369.80 464.90,371.05 469.00,371.05 469.00,372.30 474.00,372.30 474.00,372.30 475.20,372.30 475.20,373.32 476.40,373.32 476.40,374.35 477.60,374.35 477.60,375.38 478.80,375.38 478.80,376.40 481.25,376.40 481.25,377.60 483.70,377.60 483.70,378.80 496.80,378.80 496.80,378.80 497.87,378.80 497.87,379.80 498.93,379.80 498.93,380.80 500.00,380.80 500.00,381.80" fill="none" stroke="#0a0a0a" stroke-width="1.5" stroke-linejoin="miter"/>
<circle cx="388.0" cy="349.0" r="1.1" fill="#0a0a0a"/>
<circle cx="393.0" cy="350.6" r="1.1" fill="#0a0a0a"/>
<circle cx="400.0" cy="352.9" r="1.1" fill="#0a0a0a"/>
<circle cx="404.0" cy="353.8" r="1.1" fill="#0a0a0a"/>
<circle cx="408.0" cy="355.6" r="1.1" fill="#0a0a0a"/>
<circle cx="416.0" cy="359.6" r="1.1" fill="#0a0a0a"/>
<circle cx="421.0" cy="359.7" r="1.1" fill="#0a0a0a"/>
<circle cx="424.0" cy="360.8" r="1.1" fill="#0a0a0a"/>
<circle cx="427.0" cy="361.9" r="1.1" fill="#0a0a0a"/>
<circle cx="435.0" cy="364.6" r="1.1" fill="#0a0a0a"/>
<circle cx="443.0" cy="367.4" r="1.1" fill="#0a0a0a"/>
<circle cx="448.0" cy="367.9" r="1.1" fill="#0a0a0a"/>
<circle cx="458.0" cy="369.3" r="1.1" fill="#0a0a0a"/>
<circle cx="461.5" cy="370.0" r="1.1" fill="#0a0a0a"/>
<circle cx="477.0" cy="375.2" r="1.1" fill="#0a0a0a"/>
<circle cx="483.5" cy="378.8" r="1.1" fill="#0a0a0a"/>
<circle cx="495.0" cy="378.8" r="1.1" fill="#0a0a0a"/>
<circle cx="499.5" cy="381.2" r="1.1" fill="#0a0a0a"/>
<line x1="358.75" y1="330.10" x2="358.75" y2="332.90" stroke="#0a0a0a" stroke-width="0.9"/>
<line x1="359.50" y1="331.80" x2="359.50" y2="334.60" stroke="#0a0a0a" stroke-width="0.9"/>
<line x1="361.20" y1="332.55" x2="361.20" y2="335.35" stroke="#0a0a0a" stroke-width="0.9"/>
<line x1="363.80" y1="333.60" x2="363.80" y2="336.40" stroke="#0a0a0a" stroke-width="0.9"/>
<line x1="366.40" y1="335.00" x2="366.40" y2="337.80" stroke="#0a0a0a" stroke-width="0.9"/>
<line x1="369.30" y1="337.60" x2="369.30" y2="340.40" stroke="#0a0a0a" stroke-width="0.9"/>
<line x1="373.05" y1="338.80" x2="373.05" y2="341.60" stroke="#0a0a0a" stroke-width="0.9"/>
<line x1="374.50" y1="341.10" x2="374.50" y2="343.90" stroke="#0a0a0a" stroke-width="0.9"/>
<line x1="378.37" y1="342.20" x2="378.37" y2="345.00" stroke="#0a0a0a" stroke-width="0.9"/>
<line x1="379.33" y1="344.13" x2="379.33" y2="346.93" stroke="#0a0a0a" stroke-width="0.9"/>
<line x1="384.15" y1="345.10" x2="384.15" y2="347.90" stroke="#0a0a0a" stroke-width="0.9"/>
<line x1="388.00" y1="347.60" x2="388.00" y2="350.40" stroke="#0a0a0a" stroke-width="0.9"/>
<line x1="394.70" y1="348.55" x2="394.70" y2="351.35" stroke="#0a0a0a" stroke-width="0.9"/>
<line x1="396.65" y1="350.45" x2="396.65" y2="353.25" stroke="#0a0a0a" stroke-width="0.9"/>
<line x1="404.30" y1="351.40" x2="404.30" y2="354.20" stroke="#0a0a0a" stroke-width="0.9"/>
<line x1="406.25" y1="353.35" x2="406.25" y2="356.15" stroke="#0a0a0a" stroke-width="0.9"/>
<line x1="411.10" y1="354.30" x2="411.10" y2="357.10" stroke="#0a0a0a" stroke-width="0.9"/>
<line x1="414.00" y1="356.70" x2="414.00" y2="359.50" stroke="#0a0a0a" stroke-width="0.9"/>
<line x1="416.80" y1="357.50" x2="416.80" y2="360.30" stroke="#0a0a0a" stroke-width="0.9"/>
<line x1="421.70" y1="358.30" x2="421.70" y2="361.10" stroke="#0a0a0a" stroke-width="0.9"/>
<line x1="427.90" y1="359.60" x2="427.90" y2="362.40" stroke="#0a0a0a" stroke-width="0.9"/>
<line x1="430.30" y1="361.10" x2="430.30" y2="363.90" stroke="#0a0a0a" stroke-width="0.9"/>
<line x1="436.80" y1="362.30" x2="436.80" y2="365.10" stroke="#0a0a0a" stroke-width="0.9"/>
<line x1="440.10" y1="364.75" x2="440.10" y2="367.55" stroke="#0a0a0a" stroke-width="0.9"/>
<line x1="453.20" y1="366.00" x2="453.20" y2="368.80" stroke="#0a0a0a" stroke-width="0.9"/>
<line x1="457.25" y1="367.60" x2="457.25" y2="370.40" stroke="#0a0a0a" stroke-width="0.9"/>
<line x1="465.40" y1="368.40" x2="465.40" y2="371.20" stroke="#0a0a0a" stroke-width="0.9"/>
<line x1="469.50" y1="370.90" x2="469.50" y2="373.70" stroke="#0a0a0a" stroke-width="0.9"/>
<line x1="475.70" y1="370.90" x2="475.70" y2="373.70" stroke="#0a0a0a" stroke-width="0.9"/>
<line x1="476.90" y1="372.95" x2="476.90" y2="375.75" stroke="#0a0a0a" stroke-width="0.9"/>
<line x1="479.30" y1="373.98" x2="479.30" y2="376.77" stroke="#0a0a0a" stroke-width="0.9"/>
<line x1="481.75" y1="376.20" x2="481.75" y2="379.00" stroke="#0a0a0a" stroke-width="0.9"/>
<line x1="497.30" y1="377.40" x2="497.30" y2="380.20" stroke="#0a0a0a" stroke-width="0.9"/>
<line x1="498.37" y1="378.40" x2="498.37" y2="381.20" stroke="#0a0a0a" stroke-width="0.9"/>
<line x1="500.50" y1="379.40" x2="500.50" y2="382.20" stroke="#0a0a0a" stroke-width="0.9"/>
<text x="361.90" y="415.80" font-size="8.5" fill="#111" text-anchor="start" textLength="19.3" lengthAdjust="spacingAndGlyphs">Strata</text>
<line x1="362.50" y1="423.20" x2="369.70" y2="423.20" stroke="#ec1f26" stroke-width="1.1"/>
<line x1="366.20" y1="421.70" x2="366.20" y2="424.70" stroke="#ec1f26" stroke-width="0.9"/>
<text x="372.60" y="425.70" font-size="8.0" fill="#111" text-anchor="start" textLength="12.8" lengthAdjust="spacingAndGlyphs">Ph+</text>
<line x1="362.50" y1="432.10" x2="369.70" y2="432.10" stroke="#0a0a0a" stroke-width="1.1"/>
<line x1="366.20" y1="430.60" x2="366.20" y2="433.60" stroke="#0a0a0a" stroke-width="0.9"/>
<text x="372.60" y="434.60" font-size="8.0" fill="#111" text-anchor="start" textLength="31.3" lengthAdjust="spacingAndGlyphs">All others</text>
<text x="343.80" y="499.90" font-size="9.3" fill="#111" text-anchor="start" textLength="62.0" lengthAdjust="spacingAndGlyphs">Number at risk</text>
<line x1="343.50" y1="506.10" x2="343.50" y2="539.75" stroke="#1e1e1e" stroke-width="1.1"/>
<line x1="342.95" y1="539.20" x2="512.70" y2="539.20" stroke="#1e1e1e" stroke-width="1.1"/>
<line x1="340.20" y1="514.70" x2="343.50" y2="514.70" stroke="#1e1e1e" stroke-width="0.9"/>
<text x="337.30" y="517.00" font-size="7.8" fill="#d02a4c" text-anchor="end" textLength="12.8" lengthAdjust="spacingAndGlyphs">Ph+</text>
<text x="351.40" y="516.65" font-size="8.2" fill="#1a1a1a" text-anchor="middle" textLength="8.1" lengthAdjust="spacingAndGlyphs">18</text>
<text x="369.91" y="516.65" font-size="8.2" fill="#1a1a1a" text-anchor="middle" textLength="8.1" lengthAdjust="spacingAndGlyphs">18</text>
<text x="388.42" y="516.65" font-size="8.2" fill="#1a1a1a" text-anchor="middle" textLength="8.1" lengthAdjust="spacingAndGlyphs">16</text>
<text x="406.93" y="516.65" font-size="8.2" fill="#1a1a1a" text-anchor="middle" textLength="8.1" lengthAdjust="spacingAndGlyphs">13</text>
<text x="425.44" y="516.65" font-size="8.2" fill="#1a1a1a" text-anchor="middle" textLength="8.1" lengthAdjust="spacingAndGlyphs">11</text>
<text x="443.95" y="516.65" font-size="8.2" fill="#1a1a1a" text-anchor="middle">9</text>
<text x="462.46" y="516.65" font-size="8.2" fill="#1a1a1a" text-anchor="middle">6</text>
<text x="480.97" y="516.65" font-size="8.2" fill="#1a1a1a" text-anchor="middle">5</text>
<text x="499.48" y="516.65" font-size="8.2" fill="#1a1a1a" text-anchor="middle">4</text>
<line x1="340.20" y1="530.30" x2="343.50" y2="530.30" stroke="#1e1e1e" stroke-width="0.9"/>
<text x="337.30" y="532.60" font-size="7.8" fill="#222" text-anchor="end" textLength="31.0" lengthAdjust="spacingAndGlyphs">All others</text>
<text x="351.40" y="532.25" font-size="8.2" fill="#1a1a1a" text-anchor="middle" textLength="11.8" lengthAdjust="spacingAndGlyphs">213</text>
<text x="369.91" y="532.25" font-size="8.2" fill="#1a1a1a" text-anchor="middle" textLength="11.8" lengthAdjust="spacingAndGlyphs">193</text>
<text x="388.42" y="532.25" font-size="8.2" fill="#1a1a1a" text-anchor="middle" textLength="11.8" lengthAdjust="spacingAndGlyphs">161</text>
<text x="406.93" y="532.25" font-size="8.2" fill="#1a1a1a" text-anchor="middle" textLength="11.8" lengthAdjust="spacingAndGlyphs">136</text>
<text x="425.44" y="532.25" font-size="8.2" fill="#1a1a1a" text-anchor="middle" textLength="11.8" lengthAdjust="spacingAndGlyphs">104</text>
<text x="443.95" y="532.25" font-size="8.2" fill="#1a1a1a" text-anchor="middle" textLength="8.1" lengthAdjust="spacingAndGlyphs">75</text>
<text x="462.46" y="532.25" font-size="8.2" fill="#1a1a1a" text-anchor="middle" textLength="8.1" lengthAdjust="spacingAndGlyphs">59</text>
<text x="480.97" y="532.25" font-size="8.2" fill="#1a1a1a" text-anchor="middle" textLength="8.1" lengthAdjust="spacingAndGlyphs">47</text>
<text x="499.48" y="532.25" font-size="8.2" fill="#1a1a1a" text-anchor="middle" textLength="8.1" lengthAdjust="spacingAndGlyphs">33</text>
<line x1="351.40" y1="539.20" x2="351.40" y2="542.20" stroke="#1e1e1e" stroke-width="0.9"/>
<text x="351.40" y="551.90" font-size="9.0" fill="#1a1a1a" text-anchor="middle">0</text>
<line x1="369.91" y1="539.20" x2="369.91" y2="542.20" stroke="#1e1e1e" stroke-width="0.9"/>
<text x="369.91" y="551.90" font-size="9.0" fill="#1a1a1a" text-anchor="middle">6</text>
<line x1="388.42" y1="539.20" x2="388.42" y2="542.20" stroke="#1e1e1e" stroke-width="0.9"/>
<text x="388.42" y="551.90" font-size="9.0" fill="#1a1a1a" text-anchor="middle" textLength="8.6" lengthAdjust="spacingAndGlyphs">12</text>
<line x1="406.93" y1="539.20" x2="406.93" y2="542.20" stroke="#1e1e1e" stroke-width="0.9"/>
<text x="406.93" y="551.90" font-size="9.0" fill="#1a1a1a" text-anchor="middle" textLength="8.6" lengthAdjust="spacingAndGlyphs">18</text>
<line x1="425.44" y1="539.20" x2="425.44" y2="542.20" stroke="#1e1e1e" stroke-width="0.9"/>
<text x="425.44" y="551.90" font-size="9.0" fill="#1a1a1a" text-anchor="middle" textLength="8.6" lengthAdjust="spacingAndGlyphs">24</text>
<line x1="443.95" y1="539.20" x2="443.95" y2="542.20" stroke="#1e1e1e" stroke-width="0.9"/>
<text x="443.95" y="551.90" font-size="9.0" fill="#1a1a1a" text-anchor="middle" textLength="8.6" lengthAdjust="spacingAndGlyphs">30</text>
<line x1="462.46" y1="539.20" x2="462.46" y2="542.20" stroke="#1e1e1e" stroke-width="0.9"/>
<text x="462.46" y="551.90" font-size="9.0" fill="#1a1a1a" text-anchor="middle" textLength="8.6" lengthAdjust="spacingAndGlyphs">36</text>
<line x1="480.97" y1="539.20" x2="480.97" y2="542.20" stroke="#1e1e1e" stroke-width="0.9"/>
<text x="480.97" y="551.90" font-size="9.0" fill="#1a1a1a" text-anchor="middle" textLength="8.6" lengthAdjust="spacingAndGlyphs">42</text>
<line x1="499.48" y1="539.20" x2="499.48" y2="542.20" stroke="#1e1e1e" stroke-width="0.9"/>
<text x="499.48" y="551.90" font-size="9.0" fill="#1a1a1a" text-anchor="middle" textLength="8.6" lengthAdjust="spacingAndGlyphs">48</text>
<text x="428.20" y="564.90" font-size="9.8" fill="#1a1a1a" text-anchor="middle" textLength="73.5" lengthAdjust="spacingAndGlyphs">Months since infusion</text>
<text x="299.00" y="522.60" font-size="9.5" fill="#1a1a1a" text-anchor="middle" textLength="18.8" lengthAdjust="spacingAndGlyphs" transform="rotate(-90 299.00 522.60)">Strata</text>
<rect x="0.5" y="0.5" width="519" height="570" fill="none" stroke="#000" stroke-width="1.1"/>
</svg></body></html>
